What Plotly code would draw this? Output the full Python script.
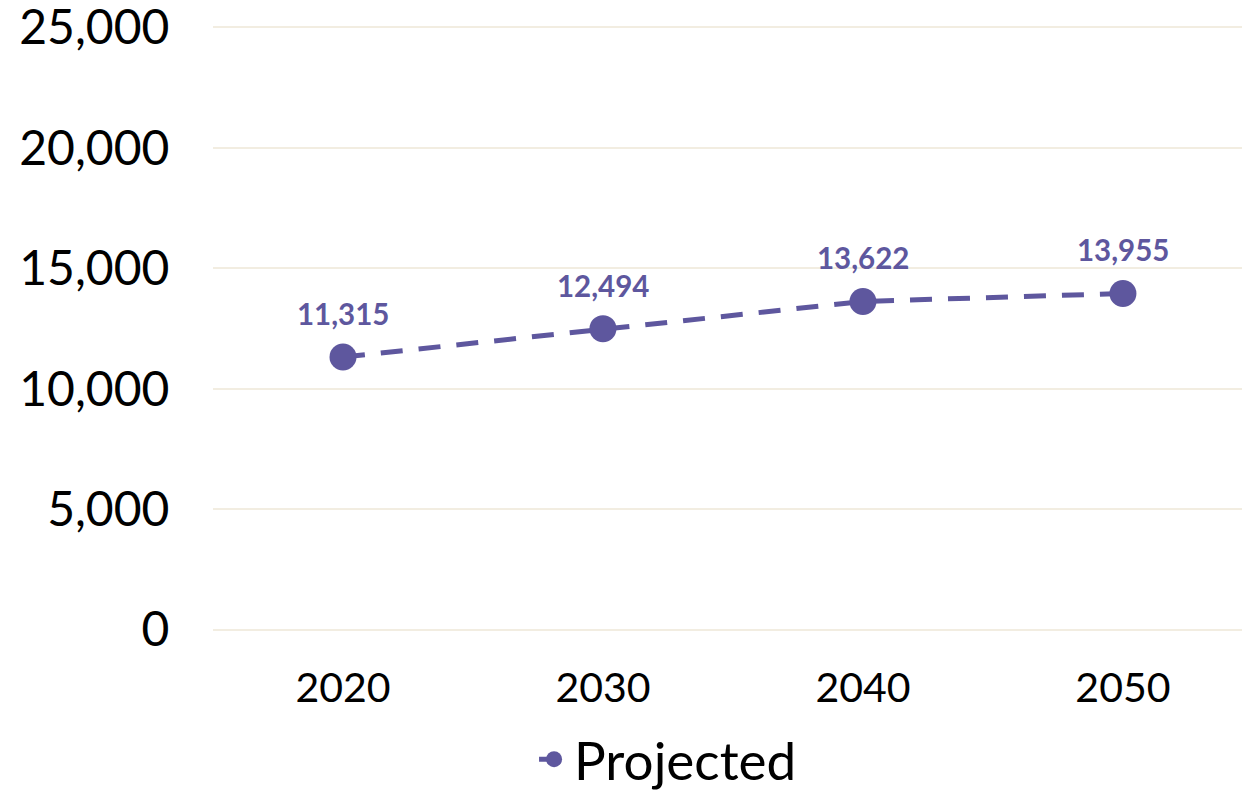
import plotly.graph_objects as go

years = ["2020", "2030", "2040", "2050"]
projected = [11315, 12494, 13622, 13955]
y_ticks = [0, 5000, 10000, 15000, 20000, 25000]

color = "#5E579E"
grid = "#F2EDE1"
font = "Lato"

fig = go.Figure()
fig.add_trace(go.Scatter(
    x=years, y=projected, mode="lines+markers", name="Projected",
    line=dict(color=color, width=5, dash="22px,16px"),
    marker=dict(color=color, size=27),
    cliponaxis=False,
))
for i, v in enumerate(projected):
    fig.add_annotation(x=i, y=v, text=f"<b>{v:,}</b>", showarrow=False,
                       xref="x", yref="y", yanchor="bottom", yshift=24,
                       font=dict(family=font, size=29.5, color=color))

fig.update_layout(
    width=1242, height=792,
    margin=dict(l=213, r=0, t=26, b=161, autoexpand=False),
    paper_bgcolor="white", plot_bgcolor="white",
    font=dict(family=font, color="black"),
    showlegend=True,
    legend=dict(orientation="h", x=0.312, xanchor="left", y=-0.212, yanchor="middle",
                font=dict(family=font, size=53, color="black"),
                itemwidth=30),
)
fig.update_yaxes(range=[-60, 25060], tickvals=y_ticks, tickformat=",", automargin=False,
                 ticklabeloverflow="allow",
                 showgrid=True, gridcolor=grid, gridwidth=2, zeroline=False,
                 showline=False, ticks="outside", ticklen=33, tickcolor="rgba(0,0,0,0)",
                 tickfont=dict(family=font, size=48, color="black"))
fig.update_xaxes(type="category", range=[-0.5, 3.458], showgrid=False, automargin=False,
                 ticklabeloverflow="allow",
                 showline=False, ticks="outside", ticklen=21, tickcolor="rgba(0,0,0,0)",
                 tickfont=dict(family=font, size=41, color="black"))

fig.write_html("out.html", config={"displayModeBar": False},
               post_script="document.body.style.margin='0';")
